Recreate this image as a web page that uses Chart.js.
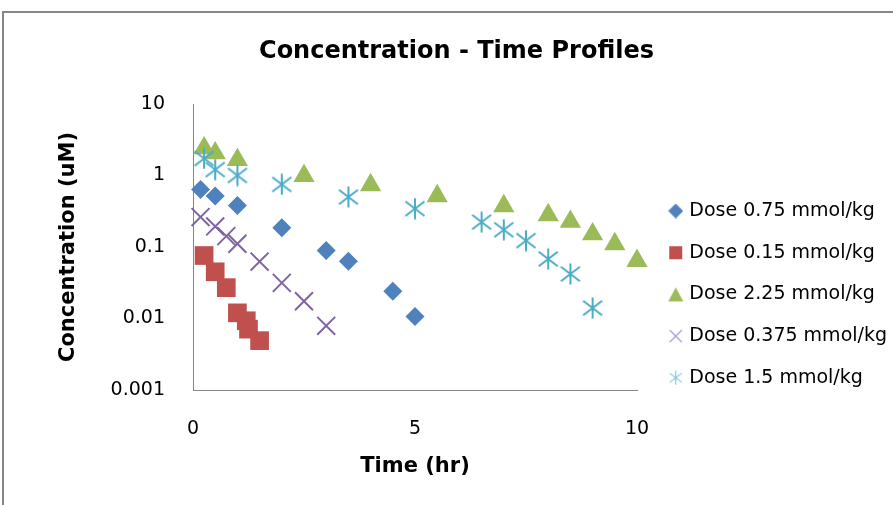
<!DOCTYPE html>
<html>
<head>
<meta charset="utf-8">
<script src="https://cdn.jsdelivr.net/npm/chart.js@4.4.1/dist/chart.umd.min.js"></script>
<style>
  html, body { margin: 0; padding: 0; background: #fff; }
  canvas { display: block; }
</style>
</head>
<body>
<canvas id="grafico" width="893" height="505"></canvas>
<script>
// valores (tempo em h, concentracao em uM)
const nomesSeries = ['Dose 0.75 mmol/kg', 'Dose 0.15 mmol/kg', 'Dose 2.25 mmol/kg', 'Dose 0.375 mmol/kg', 'Dose 1.5 mmol/kg'];

const tempo075 = [0.17, 0.5, 1, 2, 3, 3.5, 4.5, 5];
const conc075 = [0.635, 0.516, 0.382, 0.186, 0.089, 0.063, 0.024, 0.0107];

const tempo015 = [0.25, 0.5, 0.75, 1, 1.2, 1.25, 1.5];
const conc015 = [0.076, 0.045, 0.027, 0.012, 0.0093, 0.0071, 0.0049];

const tempo225 = [0.25, 0.5, 1, 2.5, 4, 5.5, 7, 8, 8.5, 9, 9.5, 10];
const conc225 = [2.41, 2.05, 1.65, 0.985, 0.736, 0.516, 0.374, 0.279, 0.226, 0.151, 0.11, 0.064];

const tempo0375 = [0.17, 0.5, 0.75, 1, 1.5, 2, 2.5, 3];
const conc0375 = [0.262, 0.194, 0.142, 0.111, 0.0625, 0.0315, 0.0174, 0.0079];

const tempo15 = [0.25, 0.5, 1, 2, 3.5, 5, 6.5, 7, 7.5, 8, 8.5, 9];
const conc15 = [1.73, 1.21, 1.0, 0.75, 0.50, 0.344, 0.223, 0.174, 0.123, 0.068, 0.042, 0.014];

const xTicks = [0, 5, 10];
const yTicks = [0.001, 0.01, 0.1, 1, 10];
const yTickLabels = ['0.001', '0.01', '0.1', '1', '10'];

const cores = ['#4F81BD', '#C0504D', '#9BBB59', '#8064A2', '#4BACC6'];
const fonte = "'DejaVu Sans', sans-serif";

const pontos = (xs, ys) => xs.map((x, i) => ({ x: x, y: ys[i] }));

// asterisco do Excel (vertical + X), o Chart.js nao tem esse simbolo
function asterisco(tam, lw, cor) {
    const c = document.createElement('canvas');
    c.width = tam; c.height = tam;
    const ctx = c.getContext('2d');
    const m = tam / 2;
    const dx = m - 1.5, dy = dx * 0.77;
    ctx.strokeStyle = cor;
    ctx.lineWidth = lw;
    ctx.beginPath();
    ctx.moveTo(m, 0.5); ctx.lineTo(m, tam - 0.5);
    ctx.moveTo(m - dx, m - dy); ctx.lineTo(m + dx, m + dy);
    ctx.moveTo(m + dx, m - dy); ctx.lineTo(m - dx, m + dy);
    ctx.stroke();
    return c;
}

// icones menores para a legenda
function iconeLegenda(tipo, tam, cor) {
    const c = document.createElement('canvas');
    c.width = tam; c.height = tam;
    const ctx = c.getContext('2d');
    const m = tam / 2;
    ctx.fillStyle = cor;
    ctx.strokeStyle = cor;
    ctx.beginPath();
    if (tipo === 'losango') {
        ctx.moveTo(m, 0); ctx.lineTo(tam, m); ctx.lineTo(m, tam); ctx.lineTo(0, m);
        ctx.closePath(); ctx.fill();
    } else if (tipo === 'quadrado') {
        ctx.fillRect(1, 1, tam - 2, tam - 2);
    } else if (tipo === 'triangulo') {
        ctx.moveTo(m, 1); ctx.lineTo(tam - 0.5, tam - 1); ctx.lineTo(0.5, tam - 1);
        ctx.closePath(); ctx.fill();
    } else if (tipo === 'xis') {
        ctx.lineWidth = 1.2;
        ctx.moveTo(1, 1); ctx.lineTo(tam - 1, tam - 1);
        ctx.moveTo(tam - 1, 1); ctx.lineTo(1, tam - 1);
        ctx.stroke();
    } else {
        return asterisco(tam, 1.2, cor);
    }
    return c;
}

const marcadorAsterisco = asterisco(22, 2, cores[4]);
const iconesLegenda = [
    iconeLegenda('losango', 15, cores[0]),
    iconeLegenda('quadrado', 15, cores[1]),
    iconeLegenda('triangulo', 16, cores[2]),
    iconeLegenda('xis', 14, '#A898CC'),
    iconeLegenda('asterisco', 15, '#7FC6DA')
];

const moldura = {
    id: 'moldura',
    beforeDraw(chart) {
        const ctx = chart.ctx;
        ctx.save();
        ctx.fillStyle = '#fff';
        ctx.fillRect(0, 0, chart.width, chart.height);
        ctx.strokeStyle = '#868686';
        ctx.lineWidth = 2;
        ctx.strokeRect(3, 12, chart.width + 10, chart.height + 10);
        ctx.restore();
    }
};

const ctxGraf = document.getElementById('grafico').getContext('2d');
new Chart(ctxGraf, {
    type: 'scatter',
    data: {
        datasets: [
            {
                label: nomesSeries[0],
                data: pontos(tempo075, conc075),
                pointStyle: 'rectRot',
                pointRadius: 9.5,
                backgroundColor: cores[0],
                borderColor: cores[0],
                borderWidth: 0,
                clip: false,
                order: 5
            },
            {
                label: nomesSeries[1],
                data: pontos(tempo015, conc015),
                pointStyle: 'rect',
                pointRadius: 13.2,
                backgroundColor: cores[1],
                borderColor: cores[1],
                borderWidth: 0,
                clip: false,
                order: 4
            },
            {
                label: nomesSeries[2],
                data: pontos(tempo225, conc225),
                pointStyle: 'triangle',
                pointRadius: 12.3,
                backgroundColor: cores[2],
                borderColor: cores[2],
                borderWidth: 0,
                clip: false,
                order: 3
            },
            {
                label: nomesSeries[3],
                data: pontos(tempo0375, conc0375),
                pointStyle: 'crossRot',
                pointRadius: 12.7,
                backgroundColor: cores[3],
                borderColor: cores[3],
                borderWidth: 2,
                clip: false,
                order: 2
            },
            {
                label: nomesSeries[4],
                data: pontos(tempo15, conc15),
                pointStyle: marcadorAsterisco,
                pointRadius: 11,
                backgroundColor: cores[4],
                borderColor: cores[4],
                borderWidth: 0,
                clip: false,
                order: 1
            }
        ]
    },
    options: {
        responsive: false,
        animation: false,
        events: [],
        layout: {
            padding: { left: 20, right: 0, top: 0, bottom: 0 }
        },
        plugins: {
            tooltip: { enabled: false },
            title: {
                display: true,
                text: 'Concentration - Time Profiles',
                color: '#000',
                font: { family: fonte, size: 24, weight: 'bold' },
                padding: { top: 37.6, bottom: 37.6 }
            },
            legend: {
                position: 'right',
                align: 'center',
                maxWidth: 244.1,
                title: {
                    display: true,
                    text: '',
                    font: { size: 12 },
                    padding: { top: 69.4, bottom: 0 }
                },
                labels: {
                    usePointStyle: true,
                    boxWidth: 8.2,
                    padding: 22.7,
                    color: '#000',
                    font: { family: fonte, size: 19 },
                    sort: (a, b) => a.datasetIndex - b.datasetIndex,
                    generateLabels: (chart) => {
                        const itens = Chart.defaults.plugins.legend.labels.generateLabels(chart);
                        itens.forEach(it => { it.pointStyle = iconesLegenda[it.datasetIndex]; });
                        return itens;
                    }
                }
            }
        },
        scales: {
            x: {
                type: 'linear',
                min: 0,
                max: 10,
                afterBuildTicks: (axis) => { axis.ticks = xTicks.map(v => ({ value: v })); },
                afterFit: (axis) => { axis.height = 115; },
                grid: { display: false, drawTicks: false },
                border: { display: true, color: '#868686', width: 1 },
                ticks: {
                    autoSkip: false,
                    maxRotation: 0,
                    padding: 27.6,
                    color: '#000',
                    font: { family: fonte, size: 19 }
                },
                title: {
                    display: true,
                    text: 'Time (hr)',
                    color: '#000',
                    font: { family: fonte, size: 21, weight: 'bold' },
                    padding: { top: 0, bottom: 25.4 }
                }
            },
            y: {
                type: 'logarithmic',
                min: 0.001,
                max: 10,
                afterBuildTicks: (axis) => { axis.ticks = yTicks.map(v => ({ value: v })); },
                afterFit: (axis) => { axis.width = 173; },
                grid: { display: false, drawTicks: false },
                border: { display: true, color: '#868686', width: 1 },
                ticks: {
                    autoSkip: false,
                    padding: 28,
                    color: '#000',
                    font: { family: fonte, size: 19 },
                    callback: (v) => yTickLabels[yTicks.indexOf(v)]
                },
                title: {
                    display: true,
                    text: 'Concentration (uM)',
                    color: '#000',
                    font: { family: fonte, size: 21, weight: 'bold' },
                    padding: { top: 36.4, bottom: 0 }
                }
            },
            // so para afastar a legenda da area do grafico
            espaco: {
                type: 'linear',
                position: 'right',
                display: true,
                grid: { display: false, drawTicks: false },
                border: { display: false },
                ticks: { display: false },
                afterFit: (axis) => { axis.width = 11.9; }
            }
        }
    },
    plugins: [moldura]
});
</script>
</body>
</html>
